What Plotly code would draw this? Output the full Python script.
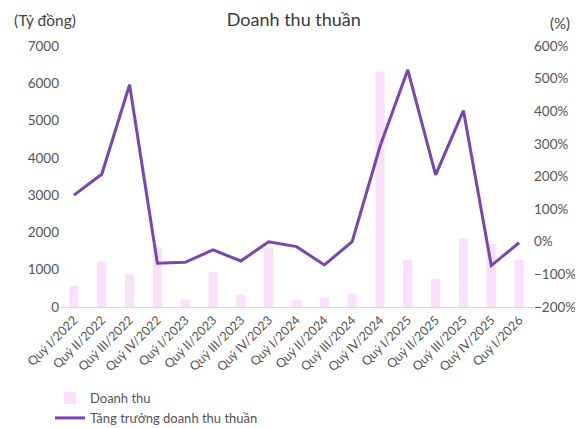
import plotly.graph_objects as go

categories = ["Quý I/2022", "Quý II/2022", "Quý III/2022", "Quý IV/2022",
              "Quý I/2023", "Quý II/2023", "Quý III/2023", "Quý IV/2023",
              "Quý I/2024", "Quý II/2024", "Quý III/2024", "Quý IV/2024",
              "Quý I/2025", "Quý II/2025", "Quý III/2025", "Quý IV/2025",
              "Quý I/2026"]
revenue = [570, 1215, 876, 1600, 206, 938, 322, 1600, 188, 241, 357, 6310,
           1260, 750, 1840, 1690, 1260]
growth = [143, 207, 481, -66, -63, -25, -59, 0, -15, -71, 0, 292,
          527, 205, 402, -73, -3]

FONT = "Lato"
TICK = "#555555"

fig = go.Figure()
fig.add_trace(go.Bar(x=categories, y=revenue, name="Doanh thu",
                     marker=dict(color="#FBE0FB", line=dict(width=0)),
                     width=0.33))
fig.add_trace(go.Scatter(x=categories, y=growth, name="Tăng trưởng doanh thu thuần",
                         yaxis="y2", mode="lines",
                         line=dict(color="#7A45B0", width=3)))

fig.update_layout(
    width=575, height=420,
    margin=dict(l=52, r=50, t=38, b=121, autoexpand=False),
    paper_bgcolor="white", plot_bgcolor="white",
    font=dict(family=FONT, color=TICK, size=13),
    title=dict(text="Doanh thu thuần", x=0.497, xanchor="center", y=0.972, yanchor="middle",
               font=dict(family=FONT, size=18, color="#3a3a3a")),
    showlegend=True,
    legend=dict(orientation="v", xref="container", yref="container",
                x=0.073, xanchor="left", y=0.107, yanchor="top",
                font=dict(family=FONT, size=13, color="#555555"),
                tracegroupgap=0, itemwidth=30),
    xaxis=dict(type="category", tickangle=-45, showgrid=False, automargin=False,
               showline=True, linecolor="#d9d9d9", linewidth=1,
               ticks="", tickfont=dict(size=12.5, color=TICK)),
    yaxis=dict(range=[0, 7000], dtick=1000, showgrid=False, zeroline=False,
               automargin=False, showline=False, ticks="",
               tickfont=dict(size=13.5, color=TICK)),
    yaxis2=dict(range=[-200, 600], dtick=100, overlaying="y", side="right",
                automargin=False, showgrid=False, zeroline=False, ticksuffix="%",
                tickfont=dict(size=13.5, color=TICK)),
    bargap=0.6,
    annotations=[
        dict(text="(Tỷ đồng)", xref="paper", yref="paper", x=-0.1015, y=1.1,
             xanchor="left", yanchor="middle", showarrow=False,
             font=dict(family=FONT, size=15.5, color="#444444")),
        dict(text="(%)", xref="paper", yref="paper", x=1.032, y=1.09,
             xanchor="left", yanchor="middle", showarrow=False,
             font=dict(family=FONT, size=15, color="#444444")),
    ],
)

fig.write_html("out.html")
